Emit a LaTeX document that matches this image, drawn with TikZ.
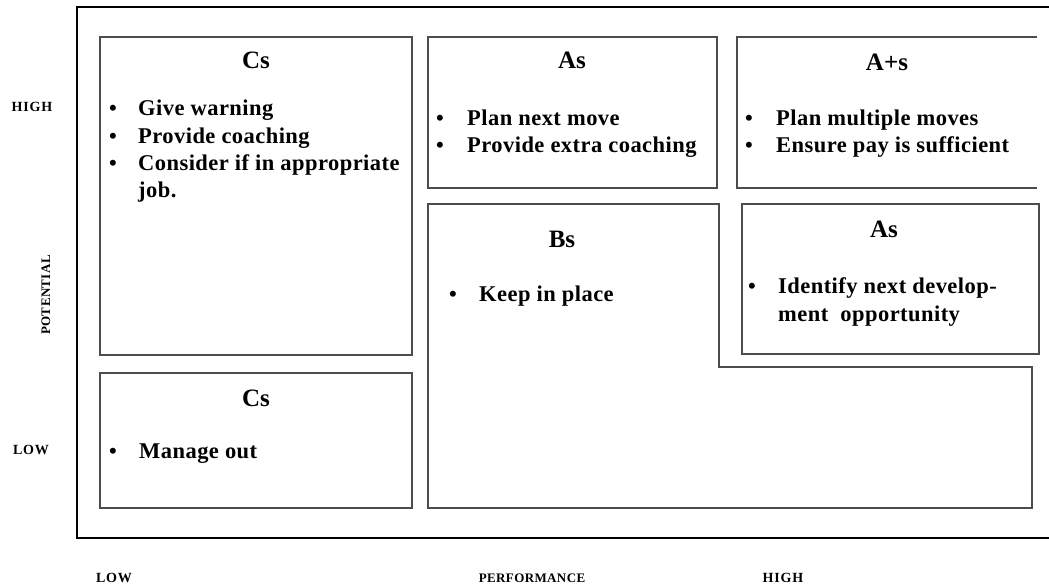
\documentclass[tikz,border=0pt]{standalone}
\usepackage{fontspec}
\setmainfont{Liberation Serif}
\begin{document}
\begin{tikzpicture}[x=1pt,y=-1pt,
  box/.style={draw=black!70, line width=1.1pt},
  frame/.style={draw=black, line width=2.6pt},
  ttl/.style={font=\bfseries\fontsize{25}{27}\selectfont, anchor=base},
  item/.style={font=\bfseries\fontsize{22.5}{24}\selectfont\addfontfeature{LetterSpace=2}, anchor=base west, inner sep=0pt},
  bul/.style={font=\bfseries\fontsize{22}{24}\selectfont, anchor=base, inner sep=0pt},
  axl/.style={font=\bfseries\fontsize{13}{15}\selectfont\addfontfeature{LetterSpace=3}, inner sep=0pt},
  axw/.style={font=\bfseries\fontsize{14}{16}\selectfont\addfontfeature{LetterSpace=6}, inner sep=0pt}]
\useasboundingbox (0,0) rectangle (1049,588);
% outer frame (open on the right)
\draw[frame] (1049,7) -- (77,7) -- (77,538) -- (1049,538);
% boxes
\draw[box] (100,37) rectangle (412,355);
\draw[box] (100,373) rectangle (412,508);
\draw[box] (428,37) rectangle (717,188);
\draw[box] (1037,37) -- (737,37) -- (737,188) -- (1037,188);
\draw[box] (742,204) rectangle (1039,354);
\draw[box] (428,204) -- (719,204) -- (719,367) -- (1032,367) -- (1032,508) -- (428,508) -- cycle;
% titles
\node[ttl] (t1) at (256,69) {Cs};
\node[ttl] (t2) at (572,69) {As};
\node[ttl] (t3) at (887,71) {A+s};
\node[ttl] (t4) at (884,237) {As};
\node[ttl] (t5) at (562,247) {Bs};
\node[ttl] (t6) at (256,406) {Cs};
% Cs top
\node[bul] (b11) at (113,116) {•};
\node[item] (i11) at (138,116) {Give warning};
\node[bul] (b12) at (113,144) {•};
\node[item] (i12) at (138,144) {Provide coaching};
\node[bul] (b13) at (113,171) {•};
\node[item] (i13) at (138,171) {Consider if in appropriate};
\node[item] (i14) at (138,198) {job.};
% As top
\node[bul] (b21) at (440,126) {•};
\node[item] (i21) at (467,126) {Plan next move};
\node[bul] (b22) at (440,153) {•};
\node[item] (i22) at (467,153) {Provide extra coaching};
% A+s
\node[bul] (b31) at (749,126) {•};
\node[item] (i31) at (776,126) {Plan multiple moves};
\node[bul] (b32) at (749,153) {•};
\node[item] (i32) at (776,153) {Ensure pay is sufficient};
% As right
\node[bul] (b41) at (752,293) {•};
\node[item] (i41) at (778,293) {Identify next develop-};
\node[item] (i42) at (778,321) {ment\ \ opportunity};
% Bs
\node[bul] (b51) at (453,301) {•};
\node[item] (i51) at (479,301) {Keep in place};
% Cs bottom
\node[bul] (b61) at (113,458) {•};
\node[item] (i61) at (139,458) {Manage out};
% axis labels
\node[axw] (hy) at (32,107) {HIGH};
\node[axw] (ly) at (31,450) {LOW};
\node[axl, rotate=90] (py) at (46,295) {POTENTIAL};
\node[axw] (lx) at (114,578) {LOW};
\node[axl] (px) at (532,578) {PERFORMANCE};
\node[axw] (hx) at (783,578) {HIGH};
\end{tikzpicture}
\end{document}
